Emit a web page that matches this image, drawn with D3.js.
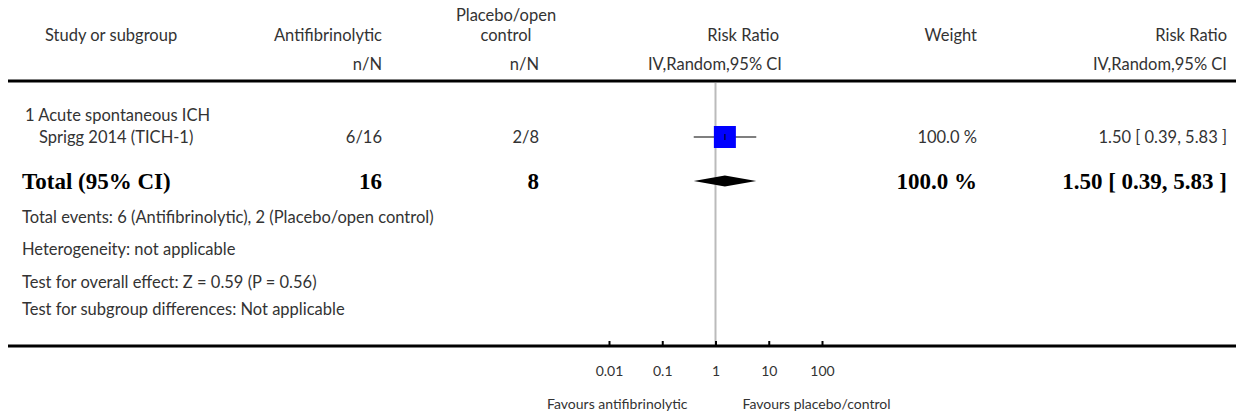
<!DOCTYPE html>
<html>
<head>
<meta charset="utf-8">
<script src="https://cdn.jsdelivr.net/npm/d3@7"></script>
<style>
  body { margin: 0; background: #fff; }
  text { font-family: Lato, "Open Sans", sans-serif; font-size: 16.5px; fill: #333; }
  text.bold { font-family: "Liberation Serif", "DejaVu Serif", serif; font-weight: bold; font-size: 23px; fill: #000; }
  text.small { font-size: 14px; }
</style>
</head>
<body>
<div id="chart"></div>
<script>
// study rows
const subgroups = ["1 Acute spontaneous ICH"];
const studies = ["Sprigg 2014 (TICH-1)"];
const treatEvents = ["6/16"];
const ctrlEvents = ["2/8"];
const rr = [1.50];
const rrLow = [0.39];
const rrHigh = [5.83];
const weights = [100.0];

// pooled
const totalTreat = 16;
const totalCtrl = 8;
const pooledRR = 1.50, pooledLow = 0.39, pooledHigh = 5.83;
const pooledWeight = 100.0;

const footerLines = [
  "Total events: 6 (Antifibrinolytic), 2 (Placebo/open control)",
  "Heterogeneity: not applicable",
  "Test for overall effect: Z = 0.59 (P = 0.56)",
  "Test for subgroup differences: Not applicable"
];

const axisTicks = [0.01, 0.1, 1, 10, 100];
const axisTickLabels = ["0.01", "0.1", "1", "10", "100"];
const favourLeft = "Favours antifibrinolytic";
const favourRight = "Favours placebo/control";

const W = 1236, H = 414;
const fmt = d3.format(".2f");

const svg = d3.select("#chart").append("svg")
  .attr("width", W).attr("height", H);

// column anchors
const col = { sub: 25, study: 39, head: 45, treat: 382, ctrl: 539, ctrlHead: 506, rrHead: 779, weight: 977, rrText: 1227 };
const rowY = { head1: 15, head2: 35, head3: 64, hline: 81, sub: 115, study: 137, total: 181, axis: 346, tickLab: 373, fav: 403 };
const footerY = [217, 249, 282, 309];

const x = d3.scaleLog().domain([0.01, 100]).range([609, 822]);

function txt(x0, y0, s, anchor, cls) {
  return svg.append("text")
    .attr("x", x0).attr("y", y0)
    .attr("dominant-baseline", "central")
    .attr("text-anchor", anchor || "start")
    .attr("class", cls || null)
    .text(s);
}

// headers
txt(col.head, rowY.head2, "Study or subgroup");
txt(col.treat, rowY.head2, "Antifibrinolytic", "end");
txt(col.ctrlHead, rowY.head1, "Placebo/open", "middle");
txt(col.ctrlHead, rowY.head2, "control", "middle");
txt(col.rrHead, rowY.head2, "Risk Ratio", "end");
txt(col.weight, rowY.head2, "Weight", "end");
txt(col.rrText, rowY.head2, "Risk Ratio", "end");
txt(col.treat, rowY.head3, "n/N", "end");
txt(col.ctrl, rowY.head3, "n/N", "end");
txt(col.rrHead + 3, rowY.head3, "IV,Random,95% CI", "end");
txt(col.rrText, rowY.head3, "IV,Random,95% CI", "end");

// null line
svg.append("line")
  .attr("x1", x(1)).attr("x2", x(1))
  .attr("y1", rowY.hline + 2).attr("y2", rowY.axis)
  .attr("stroke", "#bbb").attr("stroke-width", 2);

// top rule
svg.append("line").attr("x1", 8).attr("x2", W).attr("y1", rowY.hline).attr("y2", rowY.hline)
  .attr("stroke", "#000").attr("stroke-width", 3);

// subgroup + study rows
subgroups.forEach(s => txt(col.sub, rowY.sub, s));
studies.forEach((s, i) => {
  const y0 = rowY.study + i * 22;
  txt(col.study, y0, s);
  txt(col.treat, y0, treatEvents[i], "end");
  txt(col.ctrl, y0, ctrlEvents[i], "end");
  txt(col.weight, y0, d3.format(".1f")(weights[i]) + " %", "end");
  txt(col.rrText, y0, `${fmt(rr[i])} [ ${fmt(rrLow[i])}, ${fmt(rrHigh[i])} ]`, "end");

  svg.append("line")
    .attr("x1", x(rrLow[i])).attr("x2", x(rrHigh[i]))
    .attr("y1", y0).attr("y2", y0)
    .attr("stroke", "#000").attr("stroke-width", 1.2);
  const sz = 22 * Math.sqrt(weights[i] / 100);
  svg.append("rect")
    .attr("x", x(rr[i]) - sz / 2).attr("y", y0 - sz / 2)
    .attr("width", sz).attr("height", sz)
    .attr("fill", "#0000ff");
  svg.append("line")
    .attr("x1", x(rr[i])).attr("x2", x(rr[i]))
    .attr("y1", y0 - 3).attr("y2", y0 + 3)
    .attr("stroke", "#000").attr("stroke-width", 1);
});

// total row
txt(22, rowY.total, "Total (95% CI)", "start", "bold");
txt(col.treat, rowY.total, totalTreat, "end", "bold");
txt(col.ctrl, rowY.total, totalCtrl, "end", "bold");
txt(col.weight, rowY.total, d3.format(".1f")(pooledWeight) + " %", "end", "bold");
txt(col.rrText, rowY.total, `${fmt(pooledRR)} [ ${fmt(pooledLow)}, ${fmt(pooledHigh)} ]`, "end", "bold");

const dh = 5.5;
svg.append("path")
  .attr("d", `M${x(pooledLow)},${rowY.total} L${x(pooledRR)},${rowY.total - dh} L${x(pooledHigh)},${rowY.total} L${x(pooledRR)},${rowY.total + dh} Z`)
  .attr("fill", "#000");

// footer
footerLines.forEach((s, i) => txt(22, footerY[i], s));

// axis
svg.append("line").attr("x1", 8).attr("x2", W).attr("y1", rowY.axis).attr("y2", rowY.axis)
  .attr("stroke", "#000").attr("stroke-width", 3);

const axis = d3.axisBottom(x)
  .tickValues(axisTicks)
  .tickFormat((d, i) => axisTickLabels[i])
  .tickSizeInner(-5).tickSizeOuter(0)
  .tickPadding(20);
const gAxis = svg.append("g").attr("transform", `translate(0,${rowY.axis})`).call(axis);
gAxis.select(".domain").remove();
gAxis.selectAll(".tick line").attr("stroke", "#000").attr("stroke-width", 2);
gAxis.selectAll(".tick text").attr("font-family", null).attr("font-size", null)
  .attr("class", "small").attr("fill", "#333");

txt(x(1) - 28, rowY.fav, favourLeft, "end", "small");
txt(x(1) + 27, rowY.fav, favourRight, "start", "small");
</script>
</body>
</html>
